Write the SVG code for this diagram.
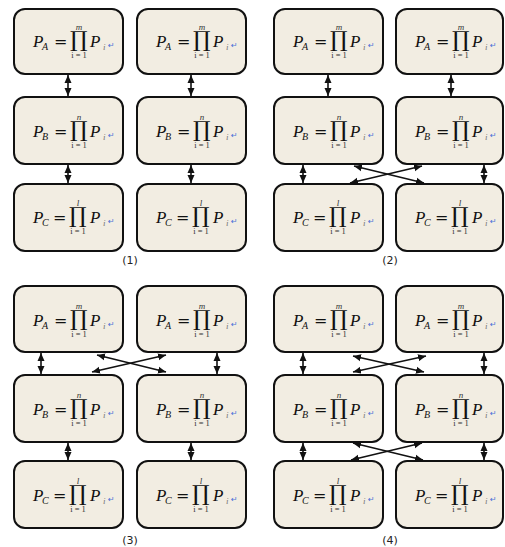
<svg xmlns="http://www.w3.org/2000/svg" width="505" height="547" viewBox="0 0 505 547">
<style>
.box{fill:#f2ede2;stroke:#111;stroke-width:2}
.P{font-family:"Liberation Serif","DejaVu Serif",serif;font-style:italic;font-size:17px;fill:#111}
.sub{font-family:"Liberation Serif","DejaVu Serif",serif;font-style:italic;font-size:10px;fill:#111}
.eq{font-family:"DejaVu Serif",serif;font-size:16px;fill:#111}
.prod{font-family:"DejaVu Serif",serif;font-size:22px;fill:#111}
.lim{font-family:"Liberation Serif",serif;font-style:italic;font-size:9px;fill:#333;text-anchor:middle}
.low{font-family:"Liberation Serif",serif;font-size:8.5px;fill:#333;text-anchor:middle}
.ii{font-family:"Liberation Serif",serif;font-style:italic;font-size:9px;fill:#777}
.ret{font-family:"DejaVu Sans",sans-serif;font-size:8px;fill:#4a6fd8}
.lbl{font-family:"DejaVu Sans",sans-serif;font-size:11px;fill:#222;text-anchor:middle}
.ar{stroke:#111;stroke-width:1.6;fill:none;marker-start:url(#ah);marker-end:url(#ah)}
</style>
<defs>
<marker id="ah" markerUnits="userSpaceOnUse" markerWidth="9" markerHeight="8" refX="8" refY="4" orient="auto-start-reverse"><path d="M0,0.5 L8,4 L0,7.5 z" fill="#111"/></marker>
</defs>

<g id="p1-a1" transform="translate(14,9)"><rect class="box" width="109" height="65" rx="11"/><text class="P" x="19" y="38">P</text><text class="sub" x="28" y="41">A</text><text class="eq" x="40" y="38">=</text><text class="prod" x="56" y="38">∏</text><text class="lim" x="65" y="21">m</text><text class="low" x="65" y="49">i = 1</text><text class="P" x="76" y="38">P</text><text class="ii" x="89" y="41">i</text><text class="ret" x="94" y="39">↵</text></g>
<g id="p1-a2" transform="translate(137,9)"><rect class="box" width="109" height="65" rx="11"/><text class="P" x="19" y="38">P</text><text class="sub" x="28" y="41">A</text><text class="eq" x="40" y="38">=</text><text class="prod" x="56" y="38">∏</text><text class="lim" x="65" y="21">m</text><text class="low" x="65" y="49">i = 1</text><text class="P" x="76" y="38">P</text><text class="ii" x="89" y="41">i</text><text class="ret" x="94" y="39">↵</text></g>
<g id="p1-b1" transform="translate(14,97)"><rect class="box" width="109" height="67" rx="11"/><text class="P" x="19" y="40">P</text><text class="sub" x="28" y="43">B</text><text class="eq" x="40" y="40">=</text><text class="prod" x="56" y="40">∏</text><text class="lim" x="65" y="23">n</text><text class="low" x="65" y="51">i = 1</text><text class="P" x="76" y="40">P</text><text class="ii" x="89" y="43">i</text><text class="ret" x="94" y="41">↵</text></g>
<g id="p1-b2" transform="translate(137,97)"><rect class="box" width="109" height="67" rx="11"/><text class="P" x="19" y="40">P</text><text class="sub" x="28" y="43">B</text><text class="eq" x="40" y="40">=</text><text class="prod" x="56" y="40">∏</text><text class="lim" x="65" y="23">n</text><text class="low" x="65" y="51">i = 1</text><text class="P" x="76" y="40">P</text><text class="ii" x="89" y="43">i</text><text class="ret" x="94" y="41">↵</text></g>
<g id="p1-c1" transform="translate(14,184)"><rect class="box" width="109" height="67" rx="11"/><text class="P" x="19" y="39">P</text><text class="sub" x="28" y="42">C</text><text class="eq" x="39" y="39">=</text><text class="prod" x="55" y="39">∏</text><text class="lim" x="64" y="22">l</text><text class="low" x="64" y="50">i = 1</text><text class="P" x="76" y="39">P</text><text class="ii" x="89" y="42">i</text><text class="ret" x="94" y="40">↵</text></g>
<g id="p1-c2" transform="translate(137,184)"><rect class="box" width="109" height="67" rx="11"/><text class="P" x="19" y="39">P</text><text class="sub" x="28" y="42">C</text><text class="eq" x="39" y="39">=</text><text class="prod" x="55" y="39">∏</text><text class="lim" x="64" y="22">l</text><text class="low" x="64" y="50">i = 1</text><text class="P" x="76" y="39">P</text><text class="ii" x="89" y="42">i</text><text class="ret" x="94" y="40">↵</text></g>

<g id="p2-a1" transform="translate(274,9)"><rect class="box" width="109" height="65" rx="11"/><text class="P" x="19" y="38">P</text><text class="sub" x="28" y="41">A</text><text class="eq" x="40" y="38">=</text><text class="prod" x="56" y="38">∏</text><text class="lim" x="65" y="21">m</text><text class="low" x="65" y="49">i = 1</text><text class="P" x="76" y="38">P</text><text class="ii" x="89" y="41">i</text><text class="ret" x="94" y="39">↵</text></g>
<g id="p2-a2" transform="translate(396,9)"><rect class="box" width="107" height="65" rx="11"/><text class="P" x="19" y="38">P</text><text class="sub" x="28" y="41">A</text><text class="eq" x="40" y="38">=</text><text class="prod" x="56" y="38">∏</text><text class="lim" x="65" y="21">m</text><text class="low" x="65" y="49">i = 1</text><text class="P" x="76" y="38">P</text><text class="ii" x="89" y="41">i</text><text class="ret" x="94" y="39">↵</text></g>
<g id="p2-b1" transform="translate(274,97)"><rect class="box" width="109" height="67" rx="11"/><text class="P" x="19" y="40">P</text><text class="sub" x="28" y="43">B</text><text class="eq" x="40" y="40">=</text><text class="prod" x="56" y="40">∏</text><text class="lim" x="65" y="23">n</text><text class="low" x="65" y="51">i = 1</text><text class="P" x="76" y="40">P</text><text class="ii" x="89" y="43">i</text><text class="ret" x="94" y="41">↵</text></g>
<g id="p2-b2" transform="translate(396,97)"><rect class="box" width="107" height="67" rx="11"/><text class="P" x="19" y="40">P</text><text class="sub" x="28" y="43">B</text><text class="eq" x="40" y="40">=</text><text class="prod" x="56" y="40">∏</text><text class="lim" x="65" y="23">n</text><text class="low" x="65" y="51">i = 1</text><text class="P" x="76" y="40">P</text><text class="ii" x="89" y="43">i</text><text class="ret" x="94" y="41">↵</text></g>
<g id="p2-c1" transform="translate(274,184)"><rect class="box" width="109" height="67" rx="11"/><text class="P" x="19" y="39">P</text><text class="sub" x="28" y="42">C</text><text class="eq" x="39" y="39">=</text><text class="prod" x="55" y="39">∏</text><text class="lim" x="64" y="22">l</text><text class="low" x="64" y="50">i = 1</text><text class="P" x="76" y="39">P</text><text class="ii" x="89" y="42">i</text><text class="ret" x="94" y="40">↵</text></g>
<g id="p2-c2" transform="translate(396,184)"><rect class="box" width="107" height="67" rx="11"/><text class="P" x="19" y="39">P</text><text class="sub" x="28" y="42">C</text><text class="eq" x="39" y="39">=</text><text class="prod" x="55" y="39">∏</text><text class="lim" x="64" y="22">l</text><text class="low" x="64" y="50">i = 1</text><text class="P" x="76" y="39">P</text><text class="ii" x="89" y="42">i</text><text class="ret" x="94" y="40">↵</text></g>

<g id="p3-a1" transform="translate(14,286)"><rect class="box" width="109" height="66" rx="11"/><text class="P" x="19" y="40">P</text><text class="sub" x="28" y="43">A</text><text class="eq" x="40" y="40">=</text><text class="prod" x="56" y="40">∏</text><text class="lim" x="65" y="23">m</text><text class="low" x="65" y="51">i = 1</text><text class="P" x="76" y="40">P</text><text class="ii" x="89" y="43">i</text><text class="ret" x="94" y="41">↵</text></g>
<g id="p3-a2" transform="translate(137,286)"><rect class="box" width="109" height="66" rx="11"/><text class="P" x="19" y="40">P</text><text class="sub" x="28" y="43">A</text><text class="eq" x="40" y="40">=</text><text class="prod" x="56" y="40">∏</text><text class="lim" x="65" y="23">m</text><text class="low" x="65" y="51">i = 1</text><text class="P" x="76" y="40">P</text><text class="ii" x="89" y="43">i</text><text class="ret" x="94" y="41">↵</text></g>
<g id="p3-b1" transform="translate(14,375)"><rect class="box" width="109" height="67" rx="11"/><text class="P" x="19" y="40">P</text><text class="sub" x="28" y="43">B</text><text class="eq" x="40" y="40">=</text><text class="prod" x="56" y="40">∏</text><text class="lim" x="65" y="23">n</text><text class="low" x="65" y="51">i = 1</text><text class="P" x="76" y="40">P</text><text class="ii" x="89" y="43">i</text><text class="ret" x="94" y="41">↵</text></g>
<g id="p3-b2" transform="translate(137,375)"><rect class="box" width="109" height="67" rx="11"/><text class="P" x="19" y="40">P</text><text class="sub" x="28" y="43">B</text><text class="eq" x="40" y="40">=</text><text class="prod" x="56" y="40">∏</text><text class="lim" x="65" y="23">n</text><text class="low" x="65" y="51">i = 1</text><text class="P" x="76" y="40">P</text><text class="ii" x="89" y="43">i</text><text class="ret" x="94" y="41">↵</text></g>
<g id="p3-c1" transform="translate(14,461)"><rect class="box" width="109" height="67" rx="11"/><text class="P" x="19" y="40">P</text><text class="sub" x="28" y="43">C</text><text class="eq" x="39" y="40">=</text><text class="prod" x="55" y="40">∏</text><text class="lim" x="64" y="23">l</text><text class="low" x="64" y="51">i = 1</text><text class="P" x="76" y="40">P</text><text class="ii" x="89" y="43">i</text><text class="ret" x="94" y="41">↵</text></g>
<g id="p3-c2" transform="translate(137,461)"><rect class="box" width="109" height="67" rx="11"/><text class="P" x="19" y="40">P</text><text class="sub" x="28" y="43">C</text><text class="eq" x="39" y="40">=</text><text class="prod" x="55" y="40">∏</text><text class="lim" x="64" y="23">l</text><text class="low" x="64" y="51">i = 1</text><text class="P" x="76" y="40">P</text><text class="ii" x="89" y="43">i</text><text class="ret" x="94" y="41">↵</text></g>

<g id="p4-a1" transform="translate(274,286)"><rect class="box" width="109" height="66" rx="11"/><text class="P" x="19" y="40">P</text><text class="sub" x="28" y="43">A</text><text class="eq" x="40" y="40">=</text><text class="prod" x="56" y="40">∏</text><text class="lim" x="65" y="23">m</text><text class="low" x="65" y="51">i = 1</text><text class="P" x="76" y="40">P</text><text class="ii" x="89" y="43">i</text><text class="ret" x="94" y="41">↵</text></g>
<g id="p4-a2" transform="translate(396,286)"><rect class="box" width="107" height="66" rx="11"/><text class="P" x="19" y="40">P</text><text class="sub" x="28" y="43">A</text><text class="eq" x="40" y="40">=</text><text class="prod" x="56" y="40">∏</text><text class="lim" x="65" y="23">m</text><text class="low" x="65" y="51">i = 1</text><text class="P" x="76" y="40">P</text><text class="ii" x="89" y="43">i</text><text class="ret" x="94" y="41">↵</text></g>
<g id="p4-b1" transform="translate(274,375)"><rect class="box" width="109" height="67" rx="11"/><text class="P" x="19" y="40">P</text><text class="sub" x="28" y="43">B</text><text class="eq" x="40" y="40">=</text><text class="prod" x="56" y="40">∏</text><text class="lim" x="65" y="23">n</text><text class="low" x="65" y="51">i = 1</text><text class="P" x="76" y="40">P</text><text class="ii" x="89" y="43">i</text><text class="ret" x="94" y="41">↵</text></g>
<g id="p4-b2" transform="translate(396,375)"><rect class="box" width="107" height="67" rx="11"/><text class="P" x="19" y="40">P</text><text class="sub" x="28" y="43">B</text><text class="eq" x="40" y="40">=</text><text class="prod" x="56" y="40">∏</text><text class="lim" x="65" y="23">n</text><text class="low" x="65" y="51">i = 1</text><text class="P" x="76" y="40">P</text><text class="ii" x="89" y="43">i</text><text class="ret" x="94" y="41">↵</text></g>
<g id="p4-c1" transform="translate(274,461)"><rect class="box" width="109" height="67" rx="11"/><text class="P" x="19" y="40">P</text><text class="sub" x="28" y="43">C</text><text class="eq" x="39" y="40">=</text><text class="prod" x="55" y="40">∏</text><text class="lim" x="64" y="23">l</text><text class="low" x="64" y="51">i = 1</text><text class="P" x="76" y="40">P</text><text class="ii" x="89" y="43">i</text><text class="ret" x="94" y="41">↵</text></g>
<g id="p4-c2" transform="translate(396,461)"><rect class="box" width="107" height="67" rx="11"/><text class="P" x="19" y="40">P</text><text class="sub" x="28" y="43">C</text><text class="eq" x="39" y="40">=</text><text class="prod" x="55" y="40">∏</text><text class="lim" x="64" y="23">l</text><text class="low" x="64" y="51">i = 1</text><text class="P" x="76" y="40">P</text><text class="ii" x="89" y="43">i</text><text class="ret" x="94" y="41">↵</text></g>

<g id="connectors">
<line class="ar" x1="68" y1="75" x2="68" y2="96"/>
<line class="ar" x1="191" y1="75" x2="191" y2="96"/>
<line class="ar" x1="68" y1="165" x2="68" y2="183"/>
<line class="ar" x1="191" y1="165" x2="191" y2="183"/>

<line class="ar" x1="328" y1="75" x2="328" y2="96"/>
<line class="ar" x1="451" y1="75" x2="451" y2="96"/>
<line class="ar" x1="303" y1="165" x2="303" y2="183"/>
<line class="ar" x1="484" y1="165" x2="484" y2="183"/>
<line class="ar" x1="354" y1="166" x2="424" y2="183"/>
<line class="ar" x1="350" y1="183" x2="422" y2="166"/>

<line class="ar" x1="41" y1="353" x2="41" y2="374"/>
<line class="ar" x1="217" y1="353" x2="217" y2="374"/>
<line class="ar" x1="97" y1="355" x2="166" y2="372"/>
<line class="ar" x1="92" y1="372" x2="166" y2="355"/>
<line class="ar" x1="68" y1="443" x2="68" y2="460"/>
<line class="ar" x1="191" y1="443" x2="191" y2="460"/>

<line class="ar" x1="303" y1="353" x2="303" y2="374"/>
<line class="ar" x1="484" y1="353" x2="484" y2="374"/>
<line class="ar" x1="353" y1="356" x2="424" y2="372"/>
<line class="ar" x1="353" y1="372" x2="426" y2="356"/>
<line class="ar" x1="303" y1="443" x2="303" y2="460"/>
<line class="ar" x1="484" y1="443" x2="484" y2="460"/>
<line class="ar" x1="353" y1="443" x2="423" y2="460"/>
<line class="ar" x1="351" y1="460" x2="422" y2="443"/>
</g>

<text class="lbl" x="130" y="264">(1)</text>
<text class="lbl" x="390" y="264">(2)</text>
<text class="lbl" x="130" y="544">(3)</text>
<text class="lbl" x="390" y="544">(4)</text>
</svg>
